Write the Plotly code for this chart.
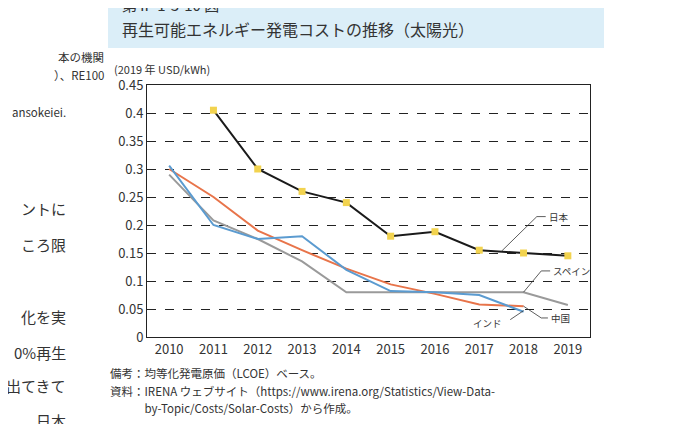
import plotly.graph_objects as go

years = ["2010", "2011", "2012", "2013", "2014", "2015", "2016", "2017", "2018", "2019"]
japan = [None, 0.405, 0.30, 0.26, 0.24, 0.18, 0.188, 0.155, 0.15, 0.145]
spain = [0.29, 0.208, 0.175, 0.135, 0.08, 0.08, 0.08, 0.08, 0.08, 0.057]
china = [0.30, 0.25, 0.19, 0.155, 0.122, 0.094, 0.077, 0.058, 0.055, None]
india = [0.306, 0.20, 0.175, 0.18, 0.12, 0.082, 0.08, 0.075, 0.045, None]
y_ticks = [0, 0.05, 0.1, 0.15, 0.2, 0.25, 0.3, 0.35, 0.4, 0.45]
y_tick_text = ["0", "0.05", "0.1", "0.15", "0.2", "0.25", "0.3", "0.35", "0.4", "0.45"]

# the page body adds an 8px margin, so the figure is shifted to compensate
OFF = 8
W, H = 696 - OFF, 424 - OFF
L, R, T, B = 147 - OFF, 590 - OFF, 85 - OFF, 337 - OFF
FONT = "Noto Sans CJK JP"
TXT = "#333333"


def px2x(px):
    return (px - OFF - L) / (R - L)


def px2y(py):
    return (B - (py - OFF)) / (B - T)


fig = go.Figure()
fig.add_trace(go.Scatter(x=years, y=spain, mode="lines", line=dict(color="#9a9a9a", width=2)))
fig.add_trace(go.Scatter(x=years, y=china, mode="lines", line=dict(color="#e8744a", width=2)))
fig.add_trace(go.Scatter(x=years, y=india, mode="lines", line=dict(color="#5b9bd0", width=2)))
fig.add_trace(go.Scatter(x=years, y=japan, mode="lines+markers",
                         line=dict(color="#1a1a1a", width=2),
                         marker=dict(symbol="square", size=7, color="#f2d34f")))

shapes = [
    # title box
    dict(type="rect", xref="paper", yref="paper", x0=px2x(108), x1=px2x(604),
         y0=px2y(48), y1=px2y(0), fillcolor="#dbeef8", line=dict(width=0), layer="below"),
]
# leader lines (data coords)
leaders = [
    (7.5, 0.153, 8.3, 0.215, 8.5, 0.215),   # 日本
    (8.0, 0.08, 8.4, 0.118, 8.6, 0.118),    # スペイン
    (8.0, 0.055, 8.4, 0.034, 8.55, 0.034),  # 中国
]
for x0, y0, x1, y1, x2, y2 in leaders:
    shapes.append(dict(type="path", xref="x", yref="y",
                       path=f"M {x0},{y0} L {x1},{y1} L {x2},{y2}",
                       line=dict(color="#333333", width=0.8)))
shapes.append(dict(type="line", xref="x", yref="y", x0=8.0, y0=0.047, x1=7.7, y1=0.031,
                   line=dict(color="#333333", width=0.8)))
fig.update_layout(shapes=shapes)

ann = [
    dict(x=px2x(120), y=px2y(4), text="第Ⅱ-1-3-10 図", size=15),
    dict(x=px2x(120), y=px2y(29), text="再生可能エネルギー発電コストの推移（太陽光）", size=16),
    dict(x=px2x(112), y=px2y(69), text="(2019 年 USD/kWh)", size=11),
    dict(x=px2x(108), y=px2y(373), text="備考：均等化発電原価（LCOE）ベース。", size=11.5),
    dict(x=px2x(108), y=px2y(391), text="資料：IRENA ウェブサイト（https://www.irena.org/Statistics/View-Data-", size=11.5),
    dict(x=px2x(108), y=px2y(408), text="　　　by-Topic/Costs/Solar-Costs）から作成。", size=11.5),
    # page fragments on the left
    dict(y=px2y(57), text="本の機関", size=11.5, xr=106),
    dict(y=px2y(75), text="）、RE100", size=11.5, xr=106),
    dict(y=px2y(112), text="ansokeiei.", size=11.5, xr=68),
    dict(y=px2y(208), text="ントに", size=15, xr=68),
    dict(y=px2y(244), text="ころ限", size=15, xr=68),
    dict(y=px2y(316), text="化を実", size=15, xr=68),
    dict(y=px2y(352), text="0%再生", size=15, xr=68),
    dict(y=px2y(385), text="出てきて", size=15, xr=68),
    dict(y=px2y(420), text="、日本", size=15, xr=68),
]
annotations = []
for a in ann:
    if "xr" in a:
        xv, xa = px2x(a["xr"]), "right"
    else:
        xv, xa = a["x"], "left"
    annotations.append(dict(xref="paper", yref="paper", x=xv, y=a["y"], text=a["text"],
                            showarrow=False, xanchor=xa, yanchor="middle",
                            font=dict(family=FONT, size=a["size"], color=TXT)))
labels = [(8.52, 0.215, "日本"), (8.62, 0.118, "スペイン"), (8.57, 0.034, "中国"), (7.55, 0.025, "インド")]
for x, y, t in labels:
    annotations.append(dict(xref="x", yref="y", x=x, y=y, text=t, showarrow=False,
                            xanchor="right" if t == "インド" else "left", yanchor="middle",
                            font=dict(family=FONT, size=9.5, color=TXT)))
fig.update_layout(annotations=annotations)

fig.update_layout(
    width=W, height=H,
    margin=dict(l=L, r=W - R, t=T, b=H - B, pad=0),
    paper_bgcolor="white", plot_bgcolor="white",
    showlegend=False,
    font=dict(family=FONT, color=TXT),
    xaxis=dict(type="category", range=[-0.5, 9.5], showgrid=False, ticks="",
               showline=True, linecolor="#222", mirror=True, linewidth=1,
               tickfont=dict(size=13), fixedrange=True),
    yaxis=dict(range=[0, 0.45], tickvals=y_ticks, ticktext=y_tick_text,
               showgrid=True, gridcolor="#222", griddash="dash", gridwidth=0.8,
               showline=True, linecolor="#222", mirror=True, linewidth=1,
               zeroline=False, ticks="", tickfont=dict(size=13), fixedrange=True),
)

fig.write_html("out.html", config={"displayModeBar": False})
